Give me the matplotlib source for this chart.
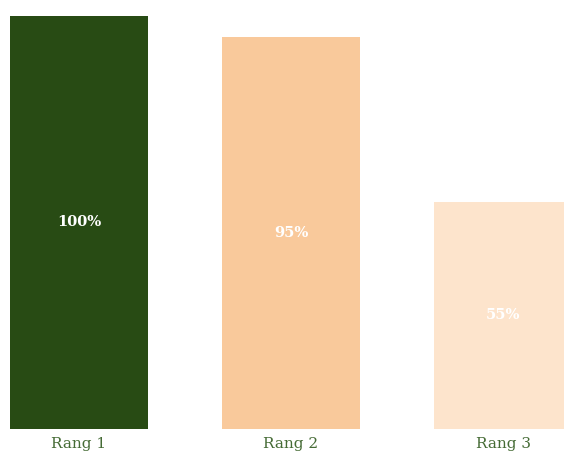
import matplotlib.pyplot as plt

categories = ['Rang 1', 'Rang 2', 'Rang 3']
values = [100, 95, 55]
labels = ['100%', '95%', '55%']
colors = ['#284b14', '#f9c99b', '#fde4cc']

plt.rcParams['font.family'] = ['DejaVu Serif']

fig = plt.figure(figsize=(5.64, 4.55), dpi=100)
ax = fig.add_axes([0, 26 / 455, 1, 429 / 455])

x = range(len(categories))
bars = ax.bar(x, values, width=0.65, color=colors)

for b, lab in zip(bars, labels):
    ax.text(b.get_x() + b.get_width() / 2, b.get_height() / 2, lab,
            ha='center', va='center', color='white', fontsize=10.5, fontweight='bold')

ax.set_xlim(-79 / 212, 485 / 212)
ax.set_ylim(0, 100 * 429 / 413)
ax.set_xticks(list(x))
ax.set_xticklabels(categories, color='#456b35', fontsize=11)
ax.tick_params(axis='x', length=0, pad=6)
ax.set_yticks([])
for s in ax.spines.values():
    s.set_visible(False)

fig.savefig('out.png', dpi=100)
